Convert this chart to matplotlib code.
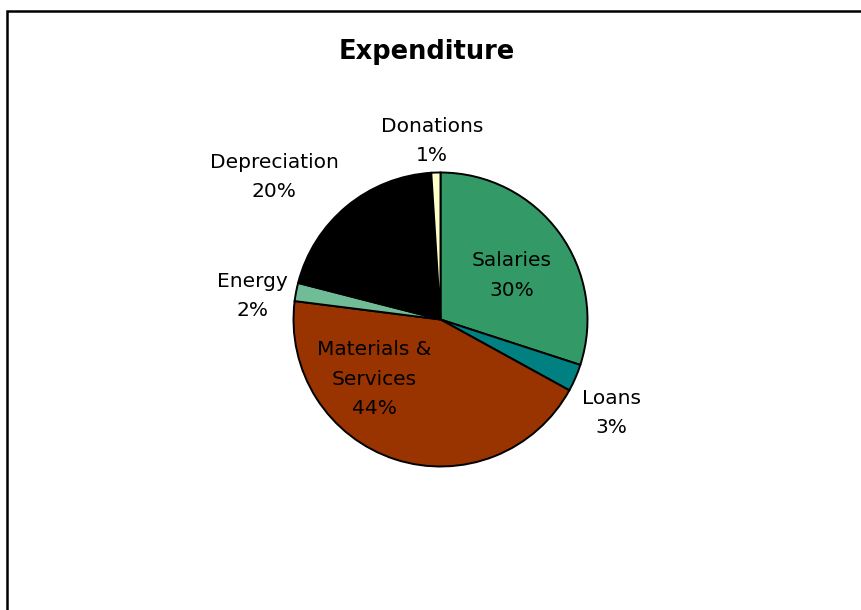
import matplotlib
matplotlib.use("Agg")
import matplotlib.pyplot as plt
from matplotlib.patches import Rectangle

categories = ["Salaries", "Loans", "Materials &\nServices", "Energy", "Depreciation", "Donations"]
values = [30, 3, 44, 2, 20, 1]
colors = ["#339966", "#008080", "#993300", "#70BC96", "#000000", "#FFFFCC"]

# label positions in pie units (Excel best-fit placement)
label_pos = [(0.486, 0.30), (1.16, -0.636), (-0.452, -0.405),
             (-1.282, 0.16), (-1.133, 0.969), (-0.058, 1.214)]

plt.rcParams["font.family"] = ["DejaVu Sans"]

fig = plt.figure(figsize=(8.61, 6.10), dpi=100)
ax = fig.add_axes([220 / 861, 70 / 610, 441 / 861, 441 / 610])

wedges, _ = ax.pie(values, colors=colors, startangle=90, counterclock=False,
                   wedgeprops=dict(edgecolor="black", linewidth=1.4, clip_on=False))
ax.set_xlim(-1.5, 1.5)
ax.set_ylim(-1.5, 1.5)
ax.set_aspect("equal")
ax.axis("off")

total = sum(values)
for name, v, (x, y) in zip(categories, values, label_pos):
    ax.text(x, y, f"{name}\n{v / total:.0%}", ha="center", va="center",
            fontsize=14.5, linespacing=1.7, color="black")

fig.text(427 / 861, 1 - 52 / 610, "Expenditure", ha="center", va="center",
         fontsize=18.5, fontweight="bold")

fig.add_artist(Rectangle((7 / 861, -0.1), 2, 1 - 11 / 610 + 0.1,
                         transform=fig.transFigure, fill=False,
                         edgecolor="black", linewidth=1.8))

fig.savefig("out.png", dpi=100)
